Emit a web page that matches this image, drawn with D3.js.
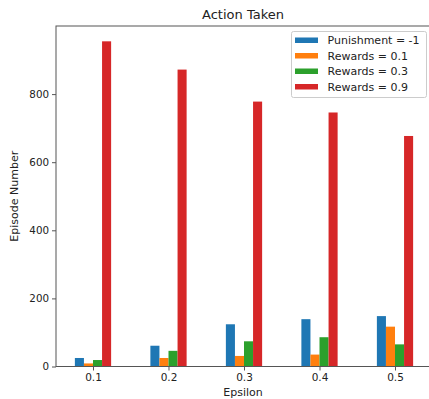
<!DOCTYPE html>
<html><head><meta charset="utf-8">
<script src="https://cdn.jsdelivr.net/npm/d3@7"></script>
<style>html,body{margin:0;padding:0;background:#fff;}svg{display:block;}</style>
</head><body>
<script>
const categories = ["0.1", "0.2", "0.3", "0.4", "0.5"];
const seriesNames = ["Punishment = -1", "Rewards = 0.1", "Rewards = 0.3", "Rewards = 0.9"];
const punishment = [25, 61, 124, 139, 148];
const rewards01 = [9, 25, 31, 35, 117];
const rewards03 = [19, 46, 74, 86, 65];
const rewards09 = [955, 872, 778, 746, 677];
const yTicks = [0, 200, 400, 600, 800];
const colors = ["#1f77b4", "#ff7f0e", "#2ca02c", "#d62728"];

const series = [punishment, rewards01, rewards03, rewards09];
const W = 429, H = 399;
const L = 56, R = 432, T = 26, B = 366.5;
const svg = d3.select("body").append("svg").attr("width", W).attr("height", H);
const font = "DejaVu Sans, sans-serif";

const x = d3.scaleLinear().domain([-0.49, categories.length - 0.51]).range([L, R]);
const y = d3.scaleLinear().domain([0, 1000]).range([B, T]);
const bw = 0.12;

series.forEach((vals, si) => {
  svg.append("g").selectAll("rect").data(vals).enter().append("rect")
    .attr("x", (d, i) => x(i + (si - 2) * bw))
    .attr("width", x(bw) - x(0))
    .attr("y", d => y(d))
    .attr("height", d => y(0) - y(d))
    .attr("fill", colors[si]);
});

// spines
svg.append("rect").attr("x", L).attr("y", T).attr("width", R - L).attr("height", B - T)
  .attr("fill", "none").attr("stroke", "#555").attr("stroke-width", 1);

// y axis
const yAxis = d3.axisLeft(y).tickValues(yTicks).tickSize(4).tickPadding(3).tickFormat(d3.format("d"));
const gy = svg.append("g").attr("transform", `translate(${L},0)`).call(yAxis);
gy.select(".domain").remove();
gy.selectAll("line").attr("stroke", "#555");
gy.selectAll("text").attr("font-family", font).attr("font-size", 10.3).attr("fill", "#222");

// x axis
const xAxis = d3.axisBottom(x).tickValues(d3.range(categories.length)).tickFormat(i => categories[i]).tickSize(4).tickPadding(3);
const gx = svg.append("g").attr("transform", `translate(0,${B})`).call(xAxis);
gx.select(".domain").remove();
gx.selectAll("line").attr("stroke", "#555");
gx.selectAll("text").attr("font-family", font).attr("font-size", 10.5).attr("fill", "#222");

// labels
svg.append("text").attr("x", (L + R) / 2 - 1).attr("y", 19).attr("text-anchor", "middle")
  .attr("font-family", font).attr("font-size", 13).attr("fill", "#222").text("Action Taken");
svg.append("text").attr("x", (L + R) / 2 - 1).attr("y", 396).attr("text-anchor", "middle")
  .attr("font-family", font).attr("font-size", 11).attr("fill", "#222").text("Epsilon");
svg.append("text").attr("transform", `translate(18,${(T + B) / 2}) rotate(-90)`).attr("text-anchor", "middle")
  .attr("font-family", font).attr("font-size", 11).attr("fill", "#222").text("Episode Number");

// legend
const lg = svg.append("g");
lg.append("rect").attr("x", 291.5).attr("y", 31.5).attr("width", 135).attr("height", 66).attr("rx", 2)
  .attr("fill", "#fff").attr("fill-opacity", 0.85).attr("stroke", "#ccc");
seriesNames.forEach((n, i) => {
  const cy = 40 + i * 15.5;
  lg.append("rect").attr("x", 295).attr("y", cy - 2.5).attr("width", 23).attr("height", 5.5).attr("fill", colors[i]);
  lg.append("text").attr("x", 327.5).attr("y", cy + 4).attr("font-family", font).attr("font-size", 11)
    .attr("fill", "#222").text(n);
});
</script>
</body></html>
